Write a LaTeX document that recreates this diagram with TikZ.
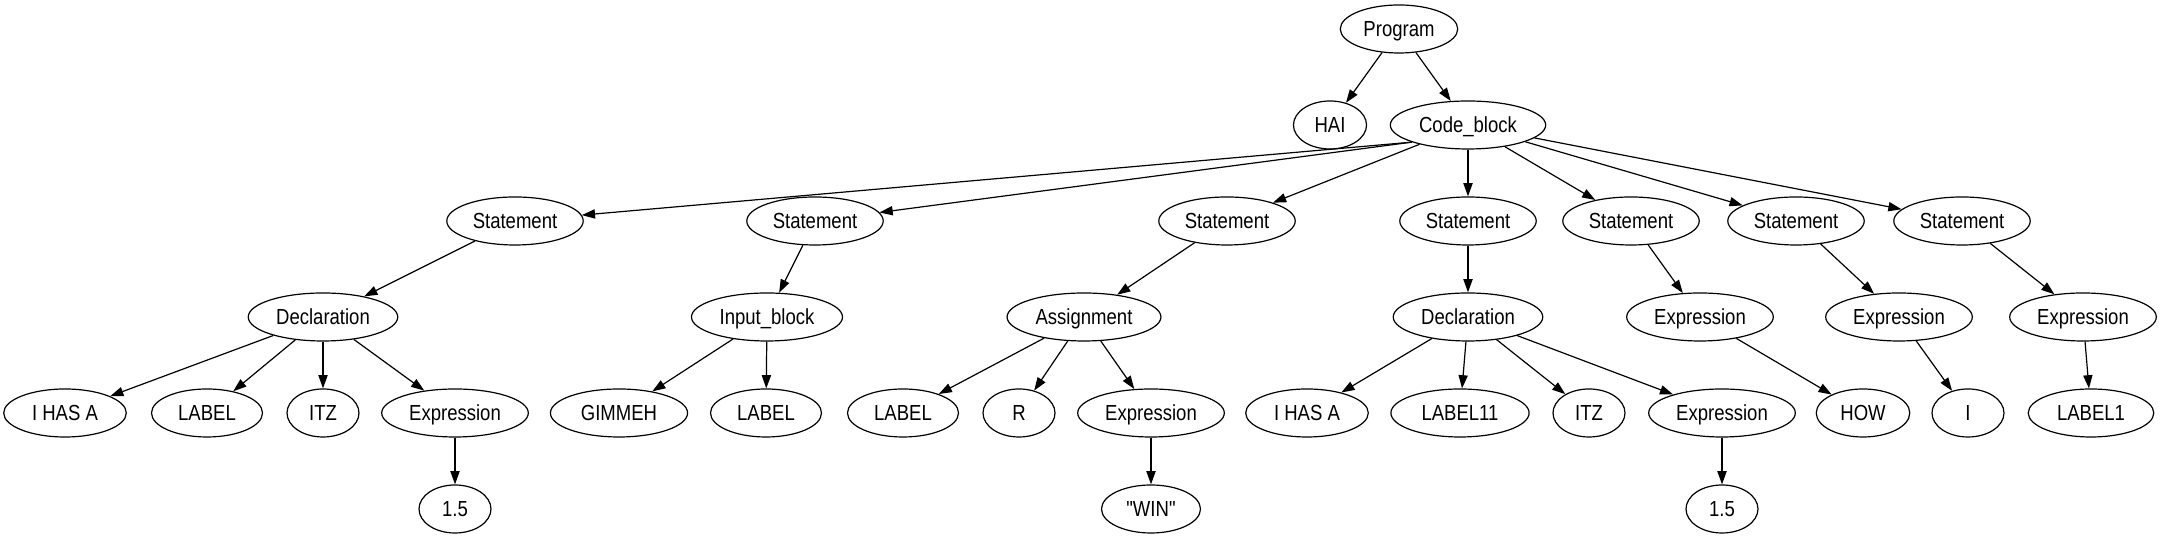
\documentclass[tikz,border=0pt]{standalone}
\usepackage{fontspec}
\newfontfamily\treefont{Liberation Sans}[FakeStretch=0.85]
\usetikzlibrary{shapes.geometric,arrows.meta}
\tikzset{
    treenode/.style={ellipse,draw,line width=0.6pt,inner xsep=3pt,inner ysep=1pt,
        minimum width=36pt,minimum height=24pt,text height=8.5pt,text depth=0.7pt,
        font=\treefont\fontsize{10.9}{13}\selectfont},
    tokennode/.style={treenode,inner xsep=5.2pt},
    treeedge/.style={line width=0.6pt,-{Triangle[length=6.6pt,width=4.6pt]}}
}

\begin{document}
\begin{tikzpicture}[x=0.5pt,y=0.5pt]
    \pgfmathsetmacro{\rowzero}{510}
    \pgfmathsetmacro{\rowone}{414}
    \pgfmathsetmacro{\rowtwo}{318}
    \pgfmathsetmacro{\rowthree}{222}
    \pgfmathsetmacro{\rowfour}{126}
    \pgfmathsetmacro{\rowfive}{30}
    \useasboundingbox (0,0) rectangle (2160,539);
    % root and first level
    \node[treenode](program) at (1399,\rowzero){Program};
    \node[tokennode](hai) at (1330,\rowone){HAI};
    \node[treenode](codeblock) at (1468,\rowone){Code\_block};
    % statements
    \node[treenode](stmtA) at (515,\rowtwo){Statement};
    \node[treenode](stmtB) at (815,\rowtwo){Statement};
    \node[treenode](stmtC) at (1227,\rowtwo){Statement};
    \node[treenode](stmtD) at (1468,\rowtwo){Statement};
    \node[treenode](stmtE) at (1631,\rowtwo){Statement};
    \node[treenode](stmtF) at (1796,\rowtwo){Statement};
    \node[treenode](stmtG) at (1962,\rowtwo){Statement};
    % statement kinds
    \node[treenode](declA) at (323,\rowthree){Declaration};
    \node[treenode](inputblock) at (767,\rowthree){Input\_block};
    \node[treenode](assign) at (1084,\rowthree){Assignment};
    \node[treenode](declB) at (1468,\rowthree){Declaration};
    \node[treenode](exprE) at (1700,\rowthree){Expression};
    \node[treenode](exprF) at (1899,\rowthree){Expression};
    \node[treenode](exprG) at (2083,\rowthree){Expression};
    % tokens
    \node[tokennode](ihasaA) at (65,\rowfour){I HAS A};
    \node[tokennode](labelA) at (207,\rowfour){LABEL};
    \node[tokennode](itzA) at (323,\rowfour){ITZ};
    \node[treenode](exprA) at (455,\rowfour){Expression};
    \node[tokennode](gimmeh) at (619,\rowfour){GIMMEH};
    \node[tokennode](labelB) at (766,\rowfour){LABEL};
    \node[tokennode](labelC) at (903,\rowfour){LABEL};
    \node[tokennode](rtoken) at (1019,\rowfour){R};
    \node[treenode](exprC) at (1151,\rowfour){Expression};
    \node[tokennode](ihasaB) at (1307,\rowfour){I HAS A};
    \node[tokennode](labelD) at (1460,\rowfour){LABEL11};
    \node[tokennode](itzB) at (1589,\rowfour){ITZ};
    \node[treenode](exprB) at (1722,\rowfour){Expression};
    \node[tokennode](how) at (1863,\rowfour){HOW};
    \node[tokennode](itoken) at (1968,\rowfour){I};
    \node[tokennode](labelE) at (2091,\rowfour){LABEL1};
    % values
    \node[tokennode](numA) at (455,\rowfive){1.5};
    \node[tokennode](win) at (1151,\rowfive){"WIN"};
    \node[tokennode](numB) at (1722,\rowfive){1.5};
    % edges
    \draw[treeedge] (program) -- (hai);
    \draw[treeedge] (program) -- (codeblock);
    \draw[treeedge] (codeblock.197) -- (stmtA);
    \draw[treeedge] (codeblock.197) -- (stmtB);
    \draw[treeedge] (codeblock) -- (stmtC);
    \draw[treeedge] (codeblock) -- (stmtD);
    \draw[treeedge] (codeblock) -- (stmtE);
    \draw[treeedge] (codeblock) -- (stmtF);
    \draw[treeedge] (codeblock) -- (stmtG);
    \draw[treeedge] (stmtA) -- (declA);
    \draw[treeedge] (declA) -- (ihasaA);
    \draw[treeedge] (declA) -- (labelA);
    \draw[treeedge] (declA) -- (itzA);
    \draw[treeedge] (declA) -- (exprA);
    \draw[treeedge] (exprA) -- (numA);
    \draw[treeedge] (stmtB) -- (inputblock);
    \draw[treeedge] (inputblock) -- (gimmeh);
    \draw[treeedge] (inputblock) -- (labelB);
    \draw[treeedge] (stmtC) -- (assign);
    \draw[treeedge] (assign) -- (labelC);
    \draw[treeedge] (assign) -- (rtoken);
    \draw[treeedge] (assign) -- (exprC);
    \draw[treeedge] (exprC) -- (win);
    \draw[treeedge] (stmtD) -- (declB);
    \draw[treeedge] (declB) -- (ihasaB);
    \draw[treeedge] (declB) -- (labelD);
    \draw[treeedge] (declB) -- (itzB);
    \draw[treeedge] (declB) -- (exprB);
    \draw[treeedge] (exprB) -- (numB);
    \draw[treeedge] (stmtE) -- (exprE);
    \draw[treeedge] (exprE) -- (how);
    \draw[treeedge] (stmtF) -- (exprF);
    \draw[treeedge] (exprF) -- (itoken);
    \draw[treeedge] (stmtG) -- (exprG);
    \draw[treeedge] (exprG) -- (labelE);
\end{tikzpicture}
\end{document}
